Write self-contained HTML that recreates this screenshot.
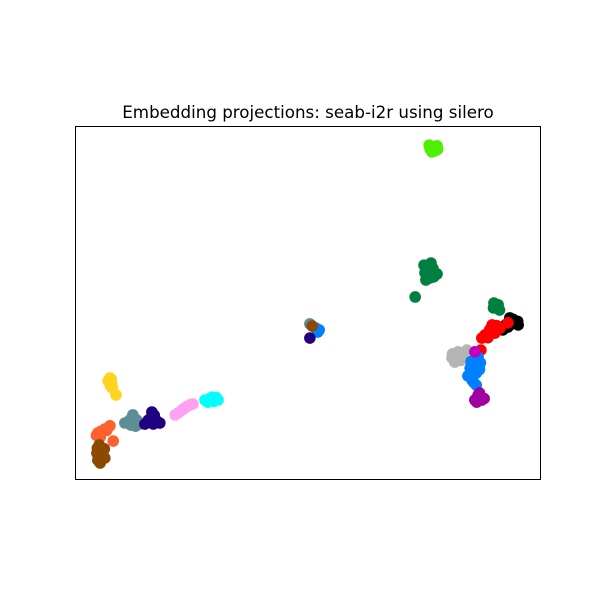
<!DOCTYPE html>
<html><head><meta charset="utf-8"><style>
html,body{margin:0;padding:0;background:#fff;}
svg{display:block;font-family:"DejaVu Sans","Liberation Sans",sans-serif;}
</style></head><body>
<svg id="chart" width="600" height="600">
<rect width="600" height="600" fill="#fff"/>
<text x="308" y="118" text-anchor="middle" font-size="16.7" fill="#000">Embedding projections: seab-i2r using silero</text>
<g id="pts"></g>
<rect x="75.5" y="126.5" width="465" height="353" fill="none" stroke="#000" stroke-width="1"/>
</svg>
<script>
const clusterNames=["lime","dark-green","green-2","black","red","gray","blue","magenta","purple","center-blue","center-teal","center-brown","center-indigo","yellow","orange","brown","teal","indigo","pink","cyan"];
const clusterColors=["#4cf000","#008040","#008040","#000000","#ff0000","#b4b4b4","#0080ff","#c000c0","#a000a0","#0080ff","#5f8d96","#8b4a00","#200080","#ffd320","#ff6030","#8b4a00","#5f8d96","#200080","#ffa0f0","#00ffff"];
const clusterPoints=[
[[76.0,94.6],[77.7,94.4],[76.6,92.7],[77.3,93.0],[76.2,93.5],[77.0,94.0],[77.8,93.4]],
[[74.9,60.7],[75.8,59.3],[76.2,57.1],[77.7,58.2],[75.3,56.5],[76.4,61.3],[75.1,58.5],[76.8,59.8],[76.0,58.0],[77.0,57.4],[73.0,51.7]],
[[89.9,50.0],[91.1,48.0],[90.3,48.9],[90.8,49.5],[89.8,48.6]],
[[93.3,45.8],[94.4,44.6],[92.9,43.2],[95.1,43.8],[91.8,42.4],[94.0,45.4],[93.6,44.0],[95.0,44.8],[92.4,43.8]],
[[89.5,43.8],[88.0,41.0],[90.1,41.5],[91.2,42.9],[87.3,40.1],[92.9,44.4],[89.0,42.5],[90.5,43.6],[88.6,40.2],[87.1,36.7]],
[[82.2,36.2],[80.9,34.5],[83.0,35.0],[81.5,33.3],[84.1,36.7],[82.0,34.8],[83.5,36.0],[81.0,35.6],[82.8,33.8]],
[[86.5,34.7],[87.0,33.1],[84.8,31.6],[86.1,30.2],[85.2,28.2],[86.1,26.8],[84.3,29.4],[85.8,32.4],[86.8,31.2],[85.5,30.0],[85.0,33.5],[85.6,27.5]],
[[85.8,36.2]],
[[86.5,24.0],[87.3,22.6],[85.8,22.6],[87.0,23.4],[86.2,22.0],[86.8,24.6],[87.8,23.0]],
[[52.1,41.8],[51.7,42.9],[52.4,42.4]],
[[50.4,44.1]],
[[50.9,43.5]],
[[50.4,40.1]],
[[7.5,28.8],[7.9,27.1],[7.1,28.0],[8.8,24.0],[8.0,26.0],[7.8,28.4],[7.6,26.6]],
[[4.9,13.3],[6.4,14.4],[7.5,15.3],[8.2,11.0],[5.4,12.1],[5.6,13.8],[6.8,14.0],[4.6,12.6]],
[[5.2,9.9],[4.7,7.6],[6.0,7.9],[4.9,5.6],[6.4,6.2],[5.4,4.8],[5.6,6.8],[4.8,9.0],[6.3,8.8],[5.0,6.4]],
[[10.7,16.1],[12.4,18.4],[13.3,16.9],[12.0,15.5],[13.9,15.8],[12.8,17.4],[11.8,17.0],[13.0,15.2]],
[[16.5,19.2],[15.7,16.9],[17.4,16.9],[15.0,15.8],[18.2,16.1],[16.4,17.8],[16.8,15.8],[17.0,18.3]],
[[21.5,18.4],[23.0,19.8],[24.2,20.9],[25.3,21.5],[22.2,19.0],[23.6,20.4],[24.8,21.3]],
[[27.9,22.6],[29.4,23.4],[30.7,22.6],[28.5,22.0],[29.8,22.2],[29.0,23.0],[30.3,23.3]]
];
const X0=75,X1=541,Y0=480,Y1=126;
function xs(v){return X0+v/100*(X1-X0);}
function ys(v){return Y0-v/100*(Y0-Y1);}
const g=document.getElementById('pts');
const NS="http://www.w3.org/2000/svg";
clusterPoints.forEach((pts,i)=>{
  const grp=document.createElementNS(NS,'g');
  
  
  pts.forEach(p=>{
    const c=document.createElementNS(NS,'circle');
    c.setAttribute('cx',xs(p[0]));c.setAttribute('cy',ys(p[1]));
    c.setAttribute('r',5.8);c.setAttribute('fill',clusterColors[i]);
    
    
    grp.appendChild(c);
  });
  g.appendChild(grp);
});
</script>
</body></html>
